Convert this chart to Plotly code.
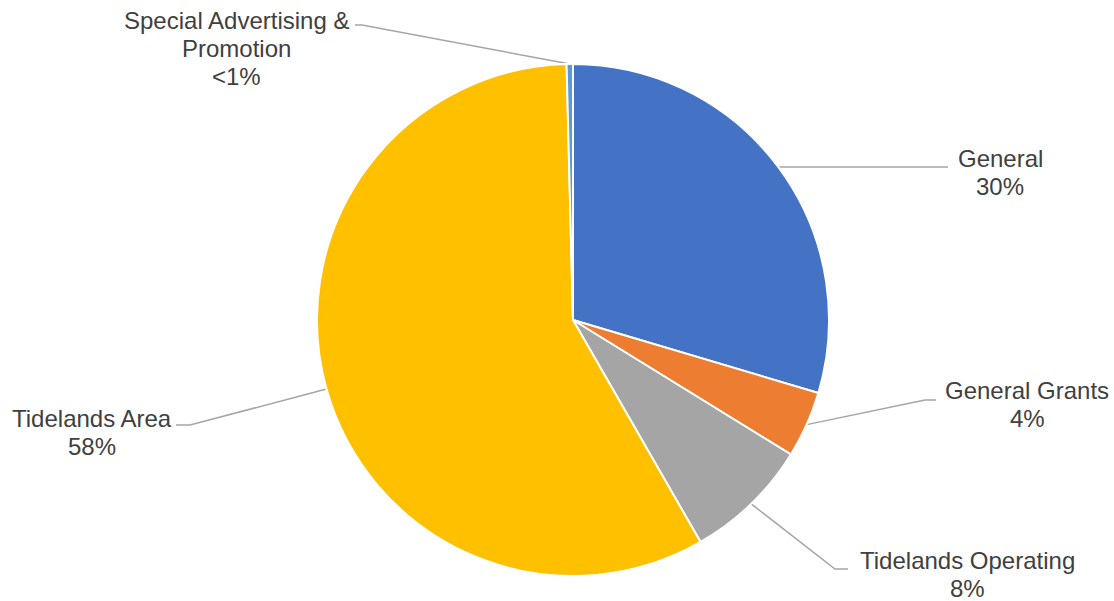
import math
import plotly.graph_objects as go

# ---- data ----
labels = ["General", "General Grants", "Tidelands Operating", "Tidelands Area", "Special Advertising & Promotion"]
label_lines = [["General"], ["General Grants"], ["Tidelands Operating"], ["Tidelands Area"],
               ["Special Advertising &", "Promotion"]]
values = [29.6, 4.2, 7.9, 57.9, 0.4]
colors = ["#4472C4", "#ED7D31", "#A5A5A5", "#FFC000", "#5B9BD5"]

# ---- layout constants ----
W, H = 1114, 601
CX, CY, R = 573, 320, 256
TEXT_COLOR = "#404040"
LINE_COLOR = "#A5A5A5"
FONT = "Liberation Sans, Arial, sans-serif"
FS = 24
LH = 28
# label block centres (x, y of first line) and elbow points for leader lines
label_pos = [(1000, 158), (1027, 390), (967, 560), (92, 418), (236, 20)]
elbow_pos = [(945, 167), (925, 400), (835, 569), (190, 425), (362, 25)]
elbow_end = [(948, 167), (936, 400), (848, 569), (176, 425), (355, 25)]

total = sum(values)
pct_text = []
for v in values:
    p = v / total * 100
    pct_text.append("<1%" if p < 1 else f"{round(p)}%")

fig = go.Figure()
fig.add_trace(go.Pie(
    labels=labels, values=values, sort=False, direction="clockwise", rotation=0,
    marker=dict(colors=colors, line=dict(color="white", width=2)),
    textinfo="none", hoverinfo="skip", showlegend=False,
    domain=dict(x=[(CX - R) / W, (CX + R) / W], y=[(H - CY - R) / H, (H - CY + R) / H]),
))

# leader lines computed from slice mid-angles
cum = 0.0
for i, v in enumerate(values):
    mid = (cum + v / 2) / total * 2 * math.pi
    cum += v
    sx = CX + R * math.sin(mid)
    sy = CY - R * math.cos(mid)
    ex, ey = elbow_pos[i]
    fx, fy = elbow_end[i]
    fig.add_trace(go.Scatter(x=[sx, ex, fx], y=[sy, ey, fy], mode="lines",
                             line=dict(color=LINE_COLOR, width=1.5),
                             hoverinfo="skip", showlegend=False))
    lines = label_lines[i] + [pct_text[i]]
    lx, ly = label_pos[i]
    for j, t in enumerate(lines):
        fig.add_annotation(x=lx, y=ly + j * LH, xref="x", yref="y", text=t, showarrow=False,
                           xanchor="center", yanchor="middle",
                           font=dict(family=FONT, size=FS, color=TEXT_COLOR))

fig.update_layout(
    width=W, height=H, margin=dict(l=0, r=0, t=0, b=0),
    paper_bgcolor="white", plot_bgcolor="rgba(0,0,0,0)",
    xaxis=dict(range=[0, W], visible=False, fixedrange=True),
    yaxis=dict(range=[H, 0], visible=False, fixedrange=True),
)
fig.write_html("out.html")
